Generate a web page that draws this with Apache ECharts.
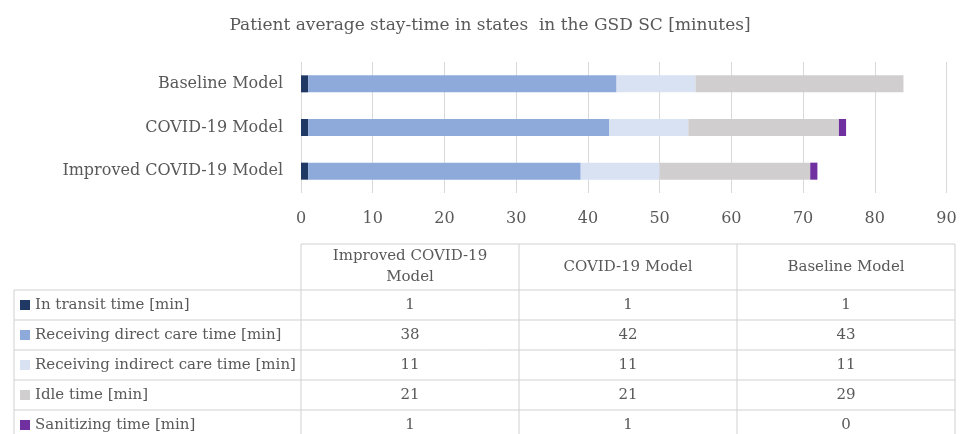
<!DOCTYPE html>
<html>
<head>
<meta charset="utf-8">
<script src="https://cdn.jsdelivr.net/npm/echarts@6/dist/echarts.min.js"></script>
<style>html,body{margin:0;padding:0;background:#fff}#c{width:961px;height:434px}</style>
</head>
<body>
<div id="c"></div>
<script>
var title = 'Patient average stay-time in states  in the GSD SC [minutes]';
var categories = ['Improved COVID-19 Model', 'COVID-19 Model', 'Baseline Model'];
var headerLabels = ['Improved COVID-19\nModel', 'COVID-19 Model', 'Baseline Model'];
var seriesNames = ['In transit time [min]', 'Receiving direct care time [min]', 'Receiving indirect care time [min]', 'Idle time [min]', 'Sanitizing time [min]'];
var transit = [1, 1, 1];
var directCare = [38, 42, 43];
var indirectCare = [11, 11, 11];
var idle = [21, 21, 29];
var sanitizing = [1, 1, 0];
var xTicks = [0, 10, 20, 30, 40, 50, 60, 70, 80, 90];
var colors = ['#1f3864', '#8eaadb', '#d9e2f3', '#d0cece', '#7030a0'];

var seriesData = [transit, directCare, indirectCare, idle, sanitizing];
var FONT = 'DejaVu Serif';
var TXT = '#595959';

var chart = echarts.init(document.getElementById('c'));

var series = seriesNames.map(function (n, i) {
  return {
    name: n, type: 'bar', stack: 'all', barWidth: 17,
    itemStyle: { color: colors[i] },
    data: seriesData[i]
  };
});

// table
var colX = [14, 301, 519, 737, 955];
var headTop = 244, headBot = 290, rowH = 30;
var g = [];
var lineStyle = { stroke: '#d0d0d0', lineWidth: 1 };
function L(x1, y1, x2, y2) { g.push({ type: 'line', shape: { x1: x1, y1: y1, x2: x2, y2: y2 }, style: lineStyle, silent: true }); }
L(colX[1], headTop, colX[4], headTop);
for (var c = 1; c <= 4; c++) L(colX[c], headTop, colX[c], headBot + rowH * seriesNames.length + 10);
L(colX[0], headBot, colX[0], headBot + rowH * seriesNames.length + 10);
for (var r = 0; r <= seriesNames.length; r++) L(colX[0], headBot + r * rowH, colX[4], headBot + r * rowH);
headerLabels.forEach(function (h, j) {
  g.push({ type: 'text', x: (colX[j + 1] + colX[j + 2]) / 2, y: (headTop + headBot) / 2,
    style: { text: h, align: 'center', verticalAlign: 'middle', fill: TXT, font: '15px "' + FONT + '"', lineHeight: 21 }, silent: true });
});
seriesNames.forEach(function (n, i) {
  var cy = headBot + i * rowH + rowH / 2;
  g.push({ type: 'rect', shape: { x: 20, y: cy - 5, width: 10, height: 10 }, style: { fill: colors[i] }, silent: true });
  g.push({ type: 'text', x: 35, y: cy, style: { text: n, align: 'left', verticalAlign: 'middle', fill: TXT, font: '15px "' + FONT + '"' }, silent: true });
  seriesData[i].forEach(function (v, j) {
    g.push({ type: 'text', x: (colX[j + 1] + colX[j + 2]) / 2, y: cy,
      style: { text: String(v), align: 'center', verticalAlign: 'middle', fill: TXT, font: '15px "' + FONT + '"' }, silent: true });
  });
});

chart.setOption({
  animation: false,
  title: { text: title, left: 485, top: 12, textAlign: 'center',
    textStyle: { fontFamily: FONT, fontSize: 17, fontWeight: 'normal', color: TXT } },
  grid: { left: 301, right: 14.5, top: 62, bottom: 241, containLabel: false },
  xAxis: { type: 'value', min: xTicks[0], max: xTicks[xTicks.length - 1], interval: 10,
    axisLine: { show: false }, axisTick: { show: false },
    splitLine: { lineStyle: { color: '#d9d9d9', width: 1 } },
    axisLabel: { color: TXT, fontFamily: FONT, fontSize: 16, margin: 18 } },
  yAxis: { type: 'category', data: categories,
    axisLine: { show: false }, axisTick: { show: false },
    axisLabel: { color: TXT, fontFamily: FONT, fontSize: 16, margin: 18 } },
  series: series,
  graphic: g
});
</script>
</body>
</html>
